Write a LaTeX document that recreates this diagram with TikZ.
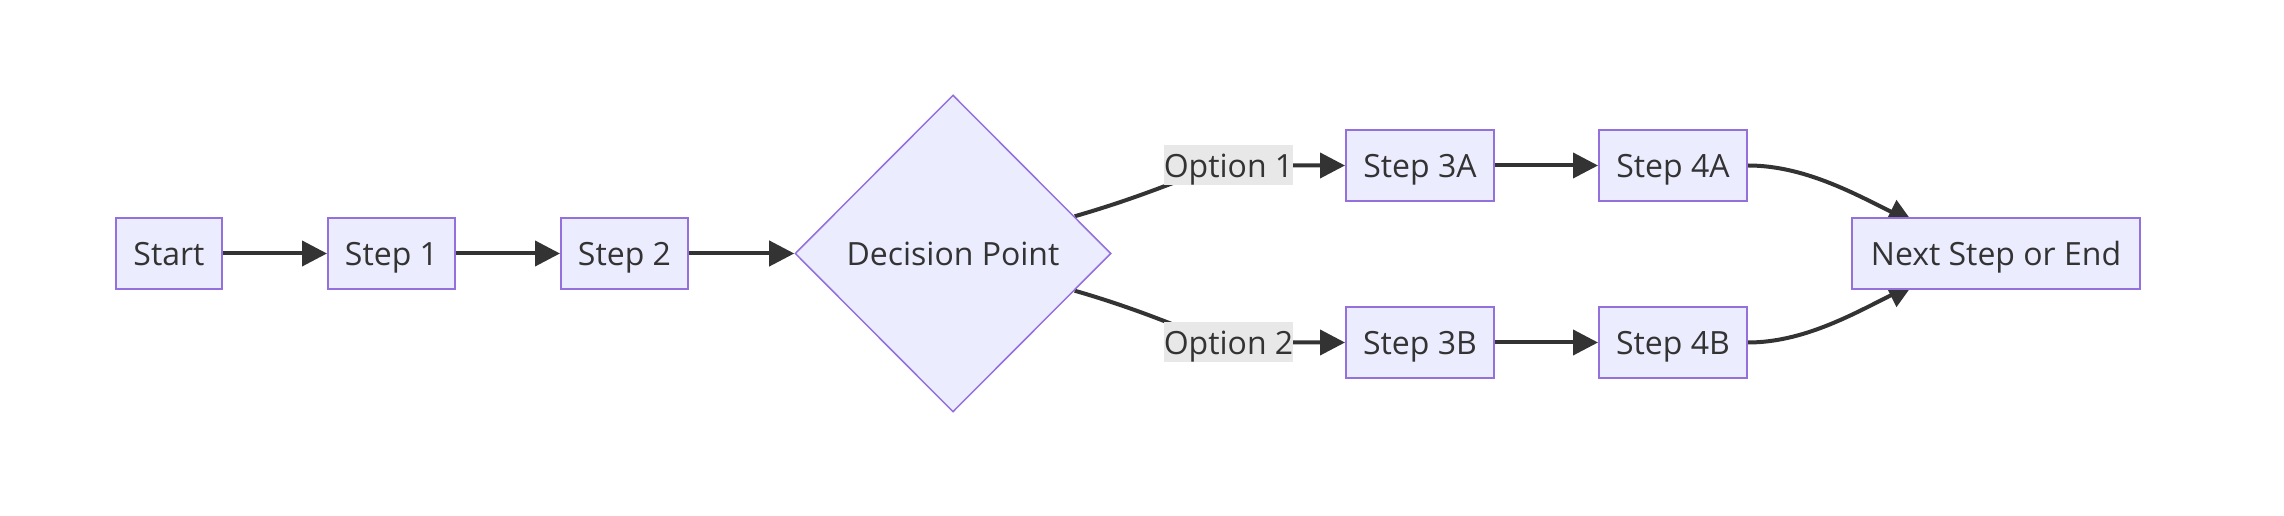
\documentclass[tikz,border=0pt]{standalone}
\usepackage{fontspec}
\setmainfont{Open Sans}
\usetikzlibrary{shapes.geometric,arrows.meta,backgrounds,calc}
\definecolor{nodefill}{HTML}{ECECFF}
\definecolor{nodeline}{HTML}{9370DB}
\definecolor{ink}{HTML}{333333}
\definecolor{lblbg}{HTML}{E8E8E8}
\begin{document}
\begin{tikzpicture}[x=1pt,y=1pt,
  font=\fontsize{32}{38}\selectfont,
  every node/.style={text=ink},
  box/.style={draw=nodeline, fill=nodefill, line width=2pt, minimum height=71.5pt, inner sep=0pt, text height=24pt, text depth=0pt},
  decision/.style={diamond, draw=nodeline, fill=nodefill, line width=1.5pt, minimum width=316pt, minimum height=317pt, inner sep=0pt, text height=24pt, text depth=0pt},
  elabel/.style={fill=lblbg, minimum height=40pt, inner sep=0pt, text height=24pt, text depth=0pt},
  edge/.style={draw=ink, line width=4pt, -{Triangle[length=25pt,width=25pt]}},
]
\useasboundingbox (0,0) rectangle (2284,516);
\node[box, minimum width=106pt] (start) at (169,262.5) {Start};
\node[box, minimum width=127pt] (s1) at (391.5,262.5) {Step 1};
\node[box, minimum width=127pt] (s2) at (624.5,262.5) {Step 2};
\node[decision] (dec) at (953,262.5) {Decision Point};
\node[elabel] (opt1) at (1228.5,350.5) {Option 1};
\node[box, minimum width=148pt] (s3a) at (1420,350.5) {Step 3A};
\node[box, minimum width=148pt] (s4a) at (1673,350.5) {Step 4A};
\node[elabel] (opt2) at (1228.5,173.5) {Option 2};
\node[box, minimum width=148pt] (s3b) at (1420,173.5) {Step 3B};
\node[box, minimum width=148pt] (s4b) at (1673,173.5) {Step 4B};
\node[box, minimum width=288pt] (next) at (1996,262.5) {Next Step or End};
\coordinate (inA) at ($(next.north west)+(62,-6)$);
\coordinate (inB) at ($(next.south west)+(62,6)$);
\begin{scope}[on background layer]
\fill[white] (0,0) rectangle (2284,516);
\draw[edge] (start) -- (s1);
\draw[edge] (s1) -- (s2);
\draw[edge] (s2) -- (dec);
\draw[edge] (dec.17) .. controls +(90,26) and +(-20,0) .. (opt1.center) -- (s3a);
\draw[edge] (dec.-17) .. controls +(90,-26) and +(-20,0) .. (opt2.center) -- (s3b);
\draw[edge] (s3a) -- (s4a);
\draw[edge] (s3b) -- (s4b);
\draw[edge] (s4a.east) .. controls +(55,0) and +(-60,30) .. (inA);
\draw[edge] (s4b.east) .. controls +(55,0) and +(-60,-30) .. (inB);
\end{scope}
\end{tikzpicture}
\end{document}
